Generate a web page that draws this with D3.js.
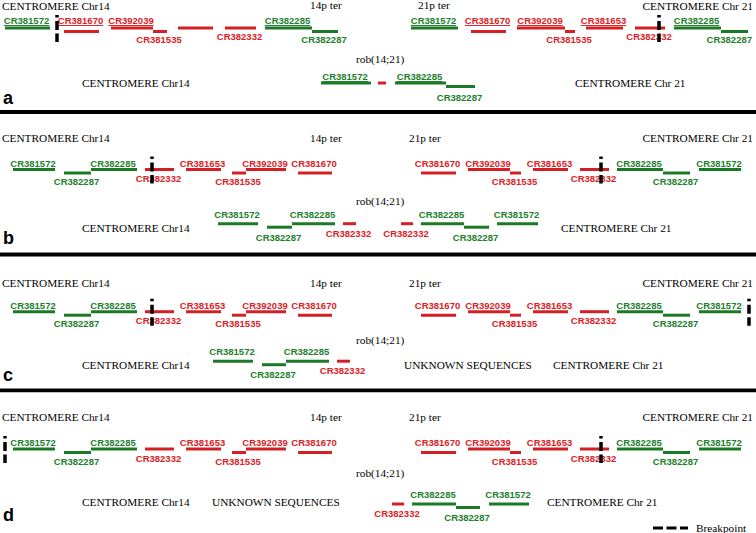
<!DOCTYPE html>
<html>
<head>
<meta charset="utf-8">
<script src="https://cdn.jsdelivr.net/npm/d3@7/dist/d3.min.js"></script>
<style>
  html, body { margin: 0; padding: 0; background: #fff; }
  svg { display: block; }
  .serif { font-family: "Liberation Serif", "Times New Roman", serif; font-size: 11.3px; fill: #000; }
  .clone { font-family: "Liberation Sans", Arial, sans-serif; font-size: 9.5px; font-weight: bold; }
  .letter { font-family: "Liberation Sans", Arial, sans-serif; font-size: 18px; font-weight: bold; fill: #000; }
</style>
</head>
<body>
<svg id="chart" width="756" height="533"></svg>
<script>
// ---------------- DATA ----------------
const panels = ["a", "b", "c", "d"];
const greenClones = ["CR381572", "CR382285", "CR382287"];
const redClones = ["CR382332", "CR381653", "CR381535", "CR392039", "CR381670"];

// segments: [clone, start, end, level(0 upper / 1 lower), label side]
const segA14 = [
  ["CR381572", 5, 50, 0, "top"],
  ["CR381670", 64, 99, 1, "top"],
  ["CR392039", 111, 153, 0, "top"],
  ["CR381535", 153, 167, 1, "bottom"],
  ["CR381653", 178, 213, 0, "none"],
  ["CR382332", 225, 256, 0, "bottom"],
  ["CR382285", 265, 312, 0, "top"],
  ["CR382287", 312, 338, 1, "bottom"]
];
const segA21 = [
  ["CR381572", 411, 458, 0, "top"],
  ["CR381670", 471, 506, 1, "top"],
  ["CR392039", 517, 565, 0, "top"],
  ["CR381535", 565, 575, 1, "bottom"],
  ["CR381653", 586, 623, 0, "top"],
  ["CR382332", 635, 665, 0, "bottom"],
  ["CR382285", 674, 721, 0, "top"],
  ["CR382287", 721, 748, 1, "bottom"]
];
const segARob = [
  ["CR381572", 321, 371, 0, "top"],
  ["CR382332", 378, 386, 0, "none"],
  ["CR382285", 395, 446, 0, "top"],
  ["CR382287", 446, 475, 1, "bottom"]
];
const seg14 = [
  ["CR381572", 13, 55, 0, "top"],
  ["CR382287", 64, 91, 1, "bottom"],
  ["CR382285", 91, 137, 0, "top"],
  ["CR382332", 145, 174, 0, "bottom"],
  ["CR381653", 186, 221, 0, "top"],
  ["CR381535", 232, 246, 1, "bottom"],
  ["CR392039", 246, 286, 0, "top"],
  ["CR381670", 298, 332, 1, "top"]
];
const seg21 = [
  ["CR381670", 421, 456, 1, "top"],
  ["CR392039", 468, 510, 0, "top"],
  ["CR381535", 510, 521, 1, "bottom"],
  ["CR381653", 533, 568, 0, "top"],
  ["CR382332", 580, 609, 0, "bottom"],
  ["CR382285", 617, 663, 0, "top"],
  ["CR382287", 663, 690, 1, "bottom"],
  ["CR381572", 699, 741, 0, "top"]
];
const segBRob = [
  ["CR381572", 218, 258, 0, "top"],
  ["CR382287", 267, 292, 1, "bottom"],
  ["CR382285", 292, 335, 0, "top"],
  ["CR382332", 343, 356, 0, "bottom"],
  ["CR382332", 401, 413, 0, "bottom"],
  ["CR382285", 421, 464, 0, "top"],
  ["CR382287", 464, 489, 1, "bottom"],
  ["CR381572", 497, 538, 0, "top"]
];
const segCRob = [
  ["CR381572", 213, 253, 0, "top"],
  ["CR382287", 262, 286, 1, "bottom"],
  ["CR382285", 286, 329, 0, "top"],
  ["CR382332", 337, 350, 0, "bottom"]
];
const segDRob = [
  ["CR382332", 392, 404, 0, "bottom"],
  ["CR382285", 412, 456, 0, "top"],
  ["CR382287", 456, 480, 1, "bottom"],
  ["CR381572", 489, 529, 0, "top"]
];
// breakpoints: [panel, position]
const breakpoints = [["a", 57], ["a", 659], ["b", 152], ["b", 601], ["c", 152], ["c", 749], ["d", 5], ["d", 601]];

// texts
const headTexts = ["CENTROMERE Chr14", "14p ter", "21p ter", "CENTROMERE Chr 21"];
const robText = "rob(14;21)";
const row2TextsA = ["CENTROMERE Chr14", "CENTROMERE Chr 21"];
const row2TextsB = ["CENTROMERE Chr14", "CENTROMERE Chr 21"];
const row2TextsC = ["CENTROMERE Chr14", "UNKNOWN SEQUENCES", "CENTROMERE Chr 21"];
const row2TextsD = ["CENTROMERE Chr14", "UNKNOWN SEQUENCES", "CENTROMERE Chr 21"];
const legendText = "Breakpoint";

// ---------------- LAYOUT ----------------
const W = 756, H = 533;
const x = d3.scaleLinear().domain([0, 756]).range([0, W]);
const color = d3.scaleOrdinal()
  .domain(greenClones.concat(redClones))
  .range(greenClones.map(() => "#1c7f2a").concat(redClones.map(() => "#e0201f")));
const barColor = d3.scaleOrdinal()
  .domain(greenClones.concat(redClones))
  .range(greenClones.map(() => "#1b7a26").concat(redClones.map(() => "#d42024")));

const layout = {
  a: { row1: 28, row2: 83, title: 9.5, rob: 62.5, row2Text: 86.5, letter: 104, sep: 112,
       up1: 4, lo1: 11.5, up2: 3, lo2: 14.5, underline: true, p21: 418,
       row1Segs: [segA14, segA21], robSegs: segARob, row2Texts: row2TextsA, row2X: [82, 575] },
  b: { row1: 169.5, row2: 223.7, title: 142, rob: 205, row2Text: 232, letter: 244, sep: 254.5,
       up1: 2.5, lo1: 12, up2: 6, lo2: 13.5, underline: false, p21: 409,
       row1Segs: [seg14, seg21], robSegs: segBRob, row2Texts: row2TextsB, row2X: [82, 561] },
  c: { row1: 311.7, row2: 361.2, title: 287, rob: 344, row2Text: 369, letter: 381, sep: 390.3,
       up1: 3, lo1: 12, up2: 6, lo2: 13, underline: false, p21: 409,
       row1Segs: [seg14, seg21], robSegs: segCRob, row2Texts: row2TextsC, row2X: [82, 404, 553] },
  d: { row1: 449, row2: 504, title: 421, rob: 477, row2Text: 505.5, letter: 521, sep: null,
       up1: 3.3, lo1: 12.5, up2: 6.5, lo2: 13, underline: false, p21: 409,
       row1Segs: [seg14, seg21], robSegs: segDRob, row2Texts: row2TextsD, row2X: [82, 212, 547] }
};
const LEVEL_DY = 3.5;

const svg = d3.select("#chart");
svg.append("rect").attr("width", W).attr("height", H).attr("fill", "#fff");

function drawRow(g, segs, rowY, up, lo, underline) {
  const rows = g.append("g");
  rows.selectAll("line.bar").data(segs).join("line")
    .attr("class", "bar")
    .attr("x1", d => x(d[1])).attr("x2", d => x(d[2]))
    .attr("y1", d => rowY + d[3] * LEVEL_DY).attr("y2", d => rowY + d[3] * LEVEL_DY)
    .attr("stroke", d => barColor(d[0])).attr("stroke-width", 3);
  rows.selectAll("text.clone").data(segs.filter(d => d[4] !== "none")).join("text")
    .attr("class", "clone")
    .attr("text-anchor", "middle")
    .attr("x", d => x((d[1] + d[2]) / 2) - 1)
    .attr("y", d => d[4] === "top" ? rowY - up : rowY + d[3] * LEVEL_DY + lo)
    .attr("fill", d => color(d[0]))
    .style("text-decoration", d => (underline && d[4] === "top") ? "underline" : "none")
    .text(d => d[0])
    .each(function () {
      const bb = this.getBBox();
      if (bb.x + bb.width > W - 4) {
        d3.select(this).attr("x", +d3.select(this).attr("x") - (bb.x + bb.width - (W - 4)));
      }
      if (bb.x < 2) {
        d3.select(this).attr("x", +d3.select(this).attr("x") + (2 - bb.x));
      }
    });
}

panels.forEach(p => {
  const L = layout[p];
  const g = svg.append("g").attr("class", "panel-" + p);

  // header texts
  g.append("text").attr("class", "serif").attr("x", x(2)).attr("y", L.title).text(headTexts[0]);
  g.append("text").attr("class", "serif").attr("x", x(310)).attr("y", L.title - 0.5).text(headTexts[1]);
  g.append("text").attr("class", "serif").attr("x", x(L.p21)).attr("y", L.title - 0.5).text(headTexts[2]);
  g.append("text").attr("class", "serif").attr("text-anchor", "end").attr("x", x(753)).attr("y", L.title).text(headTexts[3]);

  // chromosome rows
  L.row1Segs.forEach(segs => drawRow(g, segs, L.row1, L.up1, L.lo1, L.underline));

  // rob(14;21)
  g.append("text").attr("class", "serif").attr("x", x(356)).attr("y", L.rob).text(robText);
  drawRow(g, L.robSegs, L.row2, L.up2, L.lo2, L.underline);
  L.row2Texts.forEach((t, i) => {
    g.append("text").attr("class", "serif").attr("x", x(L.row2X[i])).attr("y", L.row2Text).text(t);
  });

  // breakpoints
  g.selectAll("line.bp").data(breakpoints.filter(b => b[0] === p)).join("line")
    .attr("class", "bp")
    .attr("x1", d => x(d[1])).attr("x2", d => x(d[1]))
    .attr("y1", L.row1 - 13).attr("y2", L.row1 + 14)
    .attr("stroke", "#000").attr("stroke-width", 3.5)
    .attr("stroke-dasharray", "2.5,3.5,9,3.5,30");

  // panel letter
  g.append("text").attr("class", "letter").attr("x", 3).attr("y", L.letter).text(p);

  // separator
  if (L.sep !== null) {
    g.append("line").attr("x1", 0).attr("x2", W).attr("y1", L.sep).attr("y2", L.sep)
      .attr("stroke", "#000").attr("stroke-width", 3.8);
  }
});

// legend
const lg = svg.append("g").attr("class", "legend");
lg.append("line").attr("x1", x(653)).attr("x2", x(688)).attr("y1", 528).attr("y2", 528)
  .attr("stroke", "#000").attr("stroke-width", 3.2).attr("stroke-dasharray", "10,3.5");
lg.append("text").attr("class", "serif").attr("x", x(696)).attr("y", 531.5).text(legendText);
</script>
</body>
</html>
